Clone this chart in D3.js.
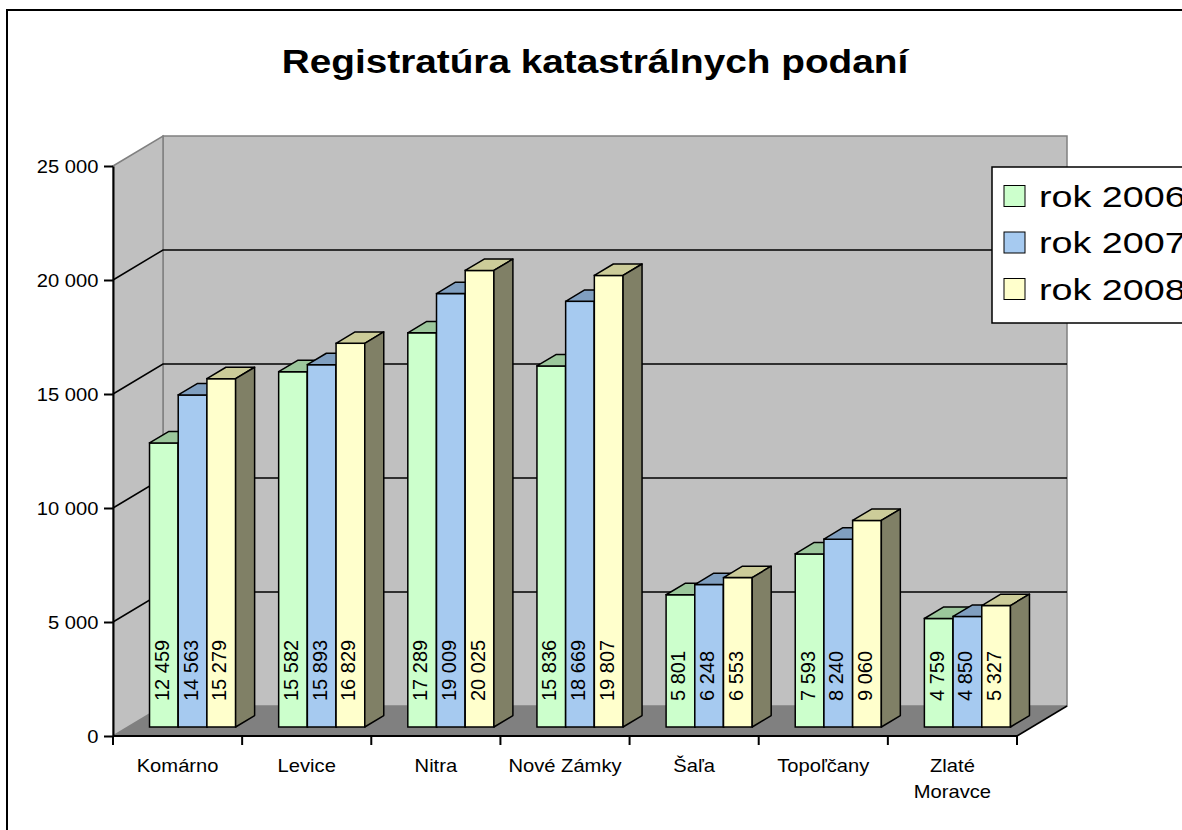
<!DOCTYPE html>
<html>
<head>
<meta charset="utf-8">
<script src="https://cdn.jsdelivr.net/npm/d3@7"></script>
<style>
  body { margin: 0; background: #fff; }
  svg text { font-family: "Liberation Sans", Arial, sans-serif; fill: #000; }
</style>
</head>
<body>
<div id="chart"></div>
<script>
var categories = ["Komárno", "Levice", "Nitra", "Nové Zámky", "Šaľa", "Topoľčany", "Zlaté Moravce"];
var seriesNames = ["rok 2006", "rok 2007", "rok 2008"];
var values2006 = [12459, 15582, 17289, 15836, 5801, 7593, 4759];
var values2007 = [14563, 15893, 19009, 18669, 6248, 8240, 4850];
var values2008 = [15279, 16829, 20025, 19807, 6553, 9060, 5327];
var yTicks = [0, 5000, 10000, 15000, 20000, 25000];

var seriesValues = [values2006, values2007, values2008];
var frontColor = ["#ccffcc", "#a6caf0", "#ffffcc"];
var topColor = ["#9cc79c", "#809fc0", "#cccc99"];
var sideColor = ["#668066", "#53657a", "#808066"];

var width = 1182, height = 830;
// oblique depth of the plot box
var depthX = 50, depthY = -30;
// bars sit between these fractions of the depth
var f0 = 0.3, f1 = 0.68;

var fmt = d3.formatLocale({decimal: ",", thousands: " ", grouping: [3], currency: ["", ""]}).format(",d");

var svg = d3.select("#chart").append("svg")
    .attr("width", width)
    .attr("height", height);

// outer chart border (runs off the canvas on the right and bottom)
svg.append("rect")
    .attr("x", 7).attr("y", 10)
    .attr("width", 1200).attr("height", 900)
    .attr("fill", "#fff")
    .attr("stroke", "#000")
    .attr("stroke-width", 2);

var xScale = d3.scaleBand()
    .domain(categories)
    .range([113, 1017])
    .padding(0);

var subScale = d3.scaleBand()
    .domain(seriesNames)
    .range([0, xScale.bandwidth()])
    .paddingInner(0)
    .paddingOuter(0.75);

var yScale = d3.scaleLinear().domain([0, 25000]).range([736, 166]);

var x0 = xScale.range()[0], x1 = xScale.range()[1];
var yBase = yScale(0), yTop = yScale(25000);

// back wall
svg.append("rect")
    .attr("x", x0 + depthX).attr("y", yTop + depthY)
    .attr("width", x1 - x0).attr("height", yBase - yTop)
    .attr("fill", "#c0c0c0")
    .attr("stroke", "#808080")
    .attr("stroke-width", 1.5);

// left side wall
svg.append("polygon")
    .attr("points", [[x0, yTop], [x0 + depthX, yTop + depthY], [x0 + depthX, yBase + depthY], [x0, yBase]].join(" "))
    .attr("fill", "#c0c0c0")
    .attr("stroke", "#808080")
    .attr("stroke-width", 1.5);

// floor
svg.append("polygon")
    .attr("points", [[x0, yBase], [x0 + depthX, yBase + depthY], [x1 + depthX, yBase + depthY], [x1, yBase]].join(" "))
    .attr("fill", "#808080");

svg.append("line")
    .attr("x1", x1).attr("y1", yBase)
    .attr("x2", x1 + depthX).attr("y2", yBase + depthY)
    .attr("stroke", "#000").attr("stroke-width", 1.5);

// gridlines on side wall and back wall
var grid = svg.append("g").attr("class", "grid");
yTicks.filter(function (d) { return d > 0 && d < 25000; }).forEach(function (d) {
    var yy = yScale(d);
    grid.append("polyline")
        .attr("points", [[x0, yy], [x0 + depthX, yy + depthY], [x1 + depthX, yy + depthY]].join(" "))
        .attr("fill", "none")
        .attr("stroke", "#000")
        .attr("stroke-width", 1.5);
});

// bars
var barW = subScale.bandwidth();
var bdx = (f1 - f0) * depthX, bdy = (f1 - f0) * depthY;
var bars = svg.append("g").attr("class", "bars");

categories.forEach(function (cat, ci) {
    seriesNames.forEach(function (s, si) {
        var v = seriesValues[si][ci];
        var bx = xScale(cat) + subScale(s) + f0 * depthX;
        var ty = yScale(v) + f0 * depthY;
        var by = yBase + f0 * depthY;
        var g = bars.append("g");

        g.append("rect")
            .attr("x", bx).attr("y", ty)
            .attr("width", barW).attr("height", by - ty)
            .attr("fill", frontColor[si])
            .attr("stroke", "#000").attr("stroke-width", 1.5);

        g.append("polygon")
            .attr("points", [[bx, ty], [bx + bdx, ty + bdy], [bx + barW + bdx, ty + bdy], [bx + barW, ty]].join(" "))
            .attr("fill", topColor[si])
            .attr("stroke", "#000").attr("stroke-width", 1.5)
            .attr("stroke-linejoin", "round");

        g.append("polygon")
            .attr("points", [[bx + barW, ty], [bx + barW + bdx, ty + bdy], [bx + barW + bdx, by + bdy], [bx + barW, by]].join(" "))
            .attr("fill", sideColor[si])
            .attr("stroke", "#000").attr("stroke-width", 1.5)
            .attr("stroke-linejoin", "round");

        g.append("text")
            .attr("transform", "translate(" + (bx + barW / 2 - 2) + "," + (by - 26) + ") rotate(-90)")
            .attr("dy", "0.35em")
            .style("font-size", "20px")
            .text(fmt(v));
    });
});

// y axis
var yAxis = d3.axisLeft(yScale)
    .tickValues(yTicks)
    .tickSize(9)
    .tickSizeOuter(0)
    .tickFormat(function (d) { return fmt(d); });

var yAxisG = svg.append("g")
    .attr("transform", "translate(" + x0 + ",0)")
    .call(yAxis);
yAxisG.select(".domain").attr("stroke", "#000").attr("stroke-width", 2);
yAxisG.selectAll(".tick line").attr("stroke", "#000").attr("stroke-width", 2);
yAxisG.selectAll(".tick text")
    .attr("x", -13)
    .attr("dy", "0.36em")
    .attr("transform", "scale(1.12,1)")
    .style("font-size", "18px")
    .style("font-family", "'Liberation Sans', Arial, sans-serif");

// x axis line and boundary ticks
svg.append("line")
    .attr("x1", x0).attr("y1", yBase)
    .attr("x2", x1).attr("y2", yBase)
    .attr("stroke", "#000").attr("stroke-width", 2);

var bounds = categories.map(function (c) { return xScale(c); }).concat([x1]);
svg.selectAll(".xtick")
    .data(bounds)
    .enter().append("line")
    .attr("class", "xtick")
    .attr("x1", function (d) { return d; })
    .attr("x2", function (d) { return d; })
    .attr("y1", yBase)
    .attr("y2", yBase + 9)
    .attr("stroke", "#000").attr("stroke-width", 2);

var catLabels = svg.selectAll(".catlabel")
    .data(categories)
    .enter().append("text")
    .attr("class", "catlabel")
    .attr("text-anchor", "middle")
    .attr("transform", function (d) {
        return "translate(" + (xScale(d) + xScale.bandwidth() / 2) + ",772) scale(1.12,1)";
    })
    .style("font-size", "18px");

// wrap labels that do not fit the category band
catLabels.each(function (d) {
    var t = d3.select(this);
    t.text(d);
    if (this.getComputedTextLength() * 1.12 > xScale.bandwidth() - 10) {
        t.text(null);
        d.split(" ").forEach(function (w, i) {
            t.append("tspan").attr("x", 0).attr("dy", i === 0 ? 0 : 26).text(w);
        });
    }
});

// title
svg.append("text")
    .attr("transform", "translate(595,73) scale(1.14,1)")
    .attr("text-anchor", "middle")
    .style("font-size", "34px")
    .style("font-weight", "bold")
    .text("Registratúra katastrálnych podaní");

// legend
var legend = svg.append("g").attr("class", "legend");
legend.append("rect")
    .attr("x", 992).attr("y", 167)
    .attr("width", 230).attr("height", 156)
    .attr("fill", "#fff")
    .attr("stroke", "#000").attr("stroke-width", 1.5);

var rowY = [196, 242.5, 289];
seriesNames.forEach(function (s, i) {
    legend.append("rect")
        .attr("x", 1004).attr("y", rowY[i] - 10.5)
        .attr("width", 21).attr("height", 21)
        .attr("fill", frontColor[i])
        .attr("stroke", "#000").attr("stroke-width", 1);
    legend.append("text")
        .attr("transform", "translate(1039," + (rowY[i] + 10.5) + ") scale(1.3,1)")
        .style("font-size", "29px")
        .text(s);
});
</script>
</body>
</html>
